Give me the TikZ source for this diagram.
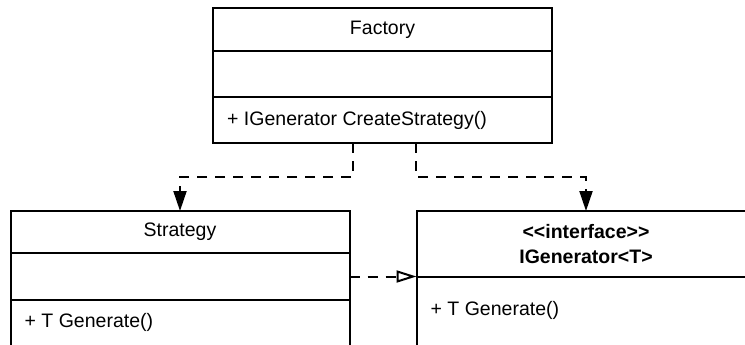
\documentclass[tikz,border=0pt]{standalone}
\usepackage{fontspec}
\setmainfont{Liberation Sans}
\usetikzlibrary{arrows.meta}
\begin{document}
\begin{tikzpicture}[x=1pt,y=-1pt,
  compartment/.style={draw, line width=2pt, rectangle, inner sep=0pt, outer sep=0pt,
    minimum width=339pt, anchor=north, font=\fontsize{19.5}{25}\selectfont},
  member/.style={inner sep=0pt, anchor=west, font=\fontsize{19.5}{25}\selectfont},
  dep/.style={line width=2pt, dash pattern=on 10pt off 8pt,
    -{Triangle[length=20pt,width=13pt]}},
  real/.style={line width=2pt, dash pattern=on 10pt off 8pt,
    -{Triangle[open,length=20pt,width=12pt]}}]

\useasboundingbox (0,0) rectangle (745,345);
\clip (0,0) rectangle (745,345);
\fill[white] (0,0) rectangle (745,345);

% Factory class
\node[compartment, minimum height=43pt] (factoryName) at (382.5,8) {Factory};
\node[compartment, minimum height=46pt] (factoryAttrs) at (factoryName.south) {};
\node[compartment, minimum height=46pt] (factoryOps) at (factoryAttrs.south) {};
\node[member] (factoryOp) at ([xshift=14pt]factoryOps.west) {+ IGenerator CreateStrategy()};

% Strategy class
\node[compartment, minimum height=42pt] (strategyName) at (180,211) {Strategy};
\node[compartment, minimum height=47pt] (strategyAttrs) at (strategyName.south) {};
\node[compartment, minimum height=70pt] (strategyOps) at (strategyAttrs.south) {};
\node[member] (strategyOp) at ([xshift=14pt,yshift=-22pt]strategyOps.north west) {+ T Generate()};

% IGenerator<T> interface
\node[compartment, minimum height=66pt, align=center, font=\fontsize{19.5}{25}\selectfont\bfseries]
  (igenName) at (586,211) {{<}{<}interface{>}{>}\\IGenerator{<}T{>}};
\node[compartment, minimum height=90pt] (igenOps) at (igenName.south) {};
\node[member] (igenOp) at ([xshift=14pt,yshift=-33pt]igenOps.north west) {+ T Generate()};

% Dependencies from the factory
\draw[dep] ([xshift=-29.5pt]factoryOps.south) -- ++(0,34) -| (strategyName.north);
\draw[dep] ([xshift=33.5pt]factoryOps.south) -- ++(0,34) -| (igenName.north);

% Realization
\draw[real] (strategyAttrs.east) -- (strategyAttrs.east -| igenName.west);
\end{tikzpicture}
\end{document}
